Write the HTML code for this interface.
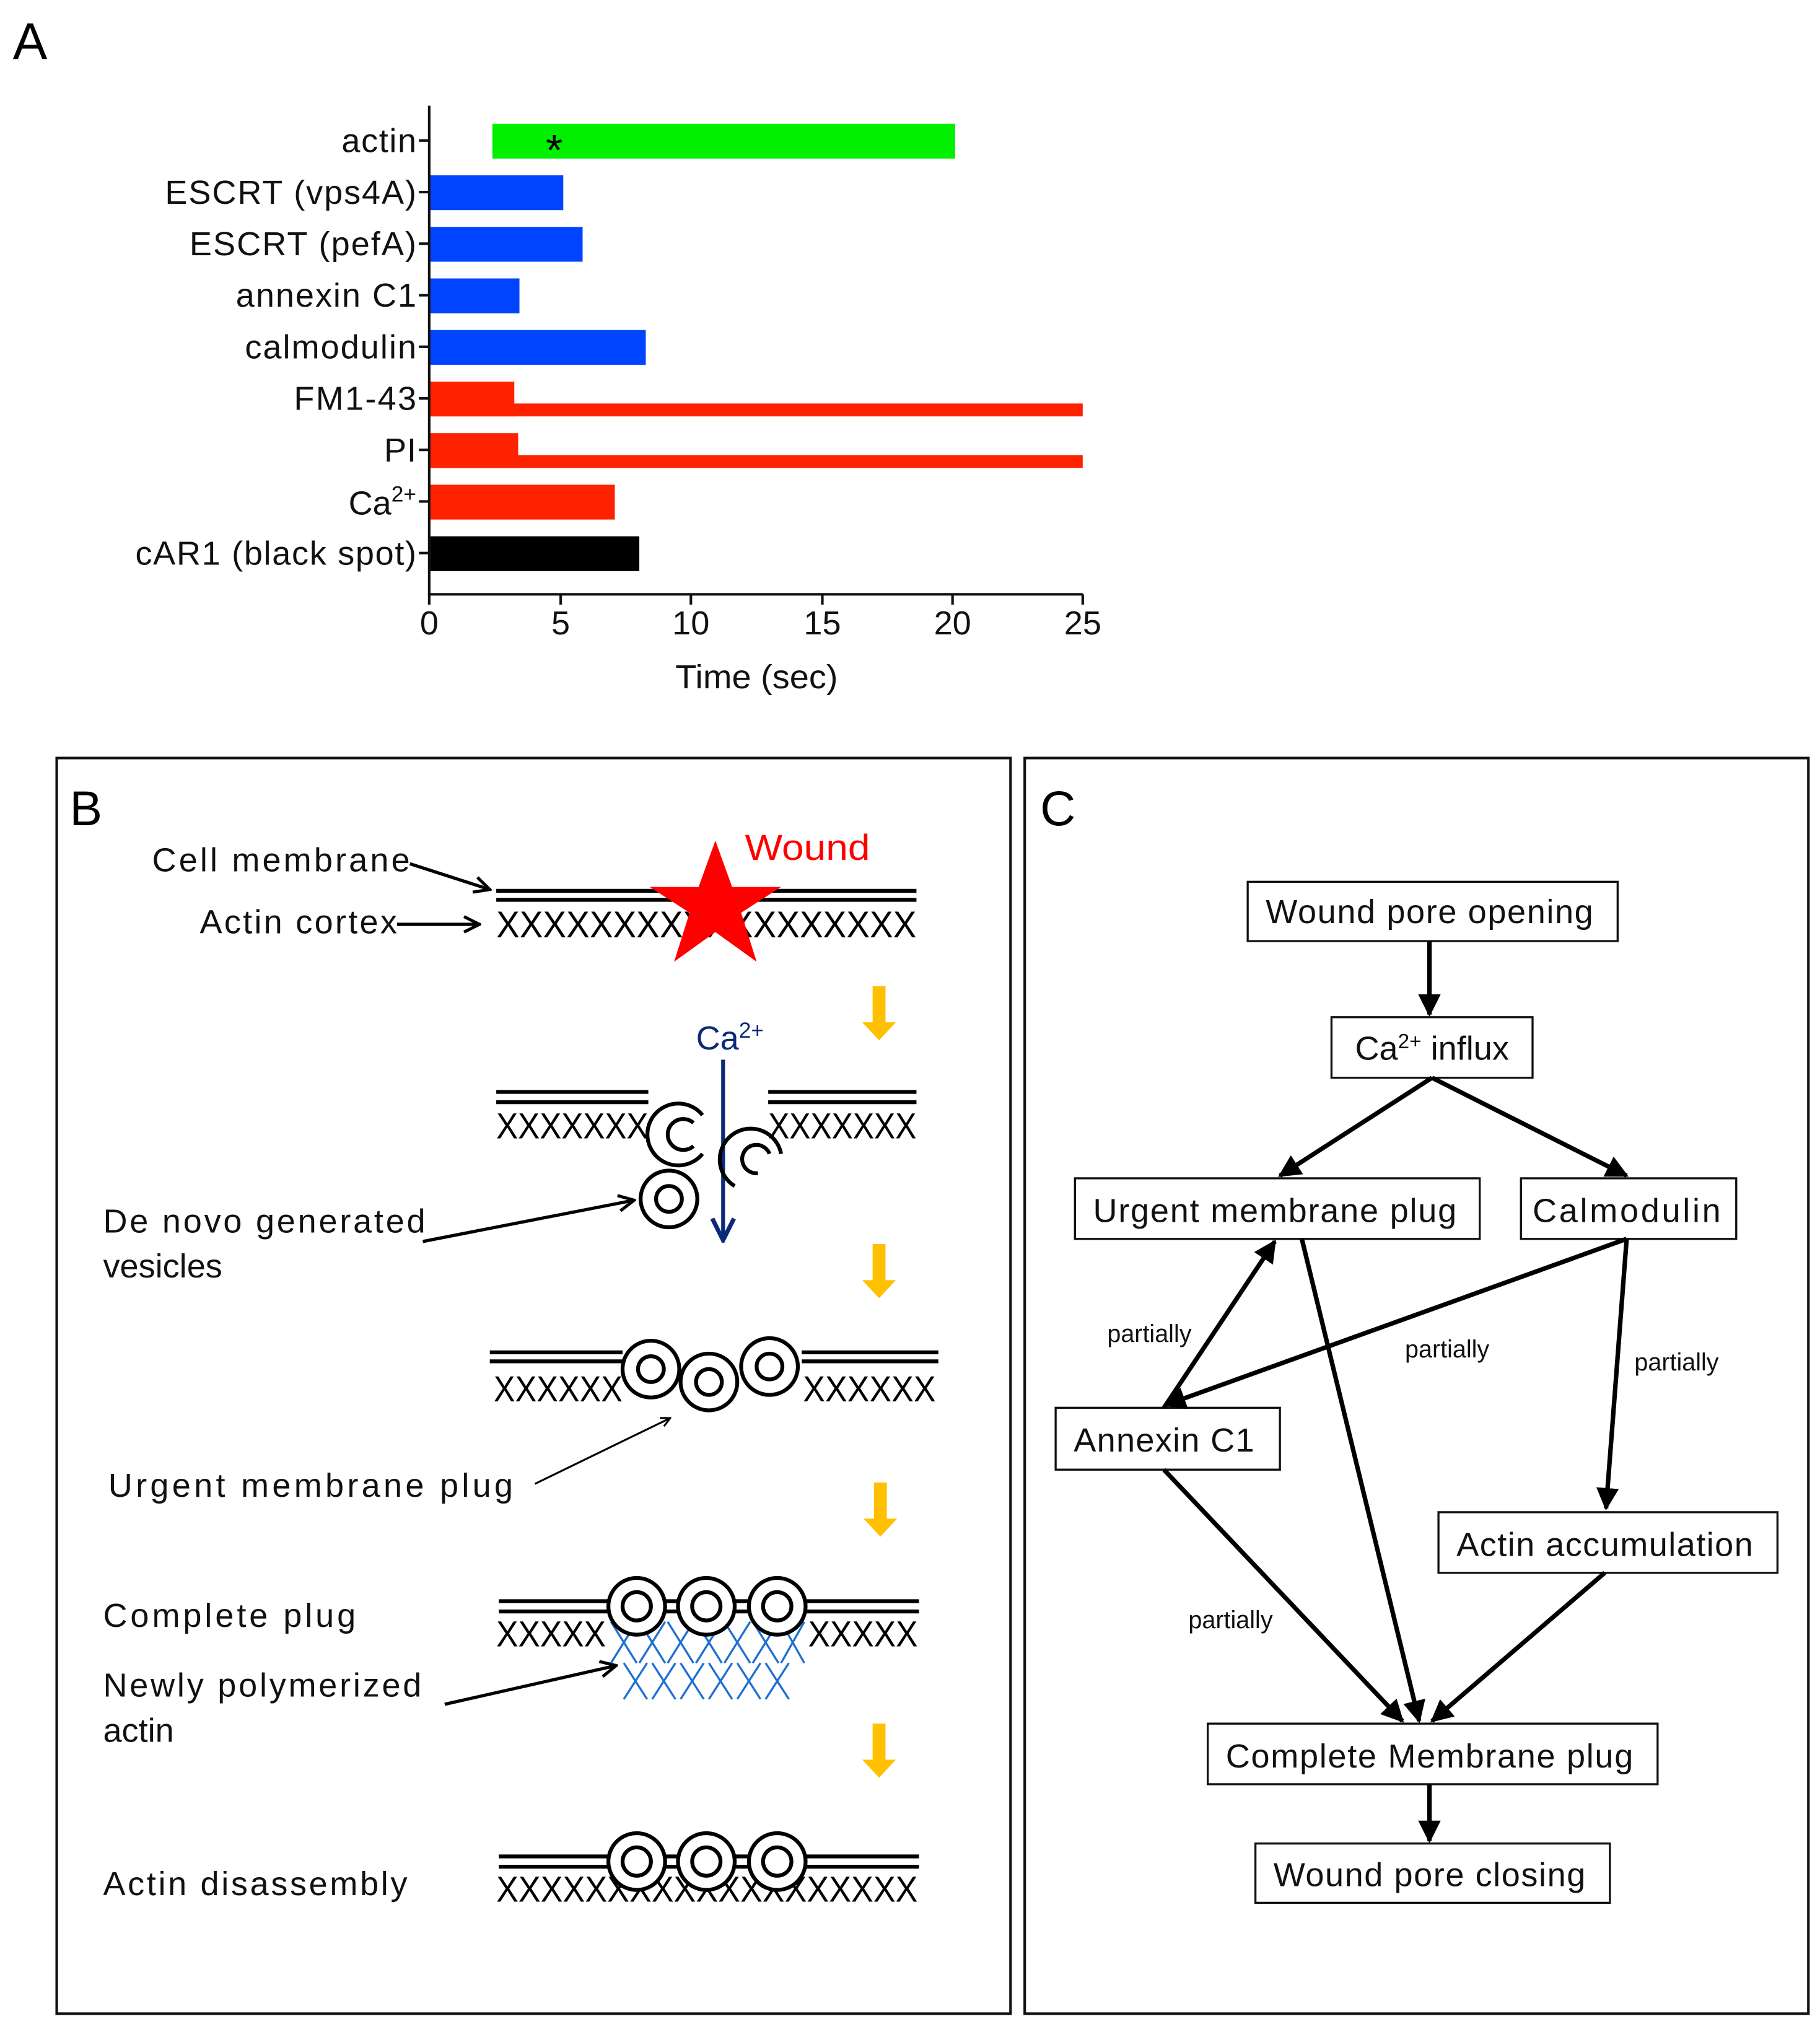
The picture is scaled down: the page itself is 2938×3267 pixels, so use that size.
<!DOCTYPE html>
<html><head><meta charset="utf-8"><style>
html,body{margin:0;padding:0;background:#fff}
svg{display:block}
text{font-family:"Liberation Sans",sans-serif}
</style></head><body>
<svg width="2938" height="3267" viewBox="0 0 1412 1570" preserveAspectRatio="none" xmlns="http://www.w3.org/2000/svg">
<defs>
<marker id="ah" viewBox="0 0 10 10" refX="9" refY="5" markerWidth="5" markerHeight="5" orient="auto"><path d="M0,0 L10,5 L0,10 z" fill="#000"/></marker>
<marker id="op" viewBox="0 0 10 10" refX="9" refY="5" markerWidth="6" markerHeight="6" orient="auto"><path d="M1,1 L9,5 L1,9" fill="none" stroke="#000" stroke-width="1.6"/></marker>
<marker id="nv" viewBox="0 0 10 10" refX="9" refY="5" markerWidth="7" markerHeight="7" orient="auto"><path d="M1,1 L9,5 L1,9" fill="none" stroke="#0b2a7a" stroke-width="1.6"/></marker>
</defs>
<text x="10" y="46" font-size="40">A</text>
<g font-size="26" text-anchor="end" fill="#111" lengthAdjust="spacingAndGlyphs">
<text x="323" y="118" textLength="58">actin</text>
<text x="323" y="158" textLength="195">ESCRT (vps4A)</text>
<text x="323" y="198" textLength="176">ESCRT (pefA)</text>
<text x="323" y="238" textLength="140">annexin C1</text>
<text x="323" y="278" textLength="133">calmodulin</text>
<text x="323" y="318" textLength="95">FM1-43</text>
<text x="323" y="358" textLength="25">PI</text>
<text x="323" y="399">Ca<tspan dy="-10" font-size="17">2+</tspan></text>
<text x="323" y="438" textLength="218">cAR1 (black spot)</text>
</g>
<g stroke="#111" stroke-width="2">
<line x1="333" y1="82" x2="333" y2="462"/>
<line x1="333" y1="461" x2="840" y2="461"/>
<line x1="325" y1="109" x2="333" y2="109"/><line x1="325" y1="149" x2="333" y2="149"/><line x1="325" y1="189" x2="333" y2="189"/><line x1="325" y1="229" x2="333" y2="229"/><line x1="325" y1="269" x2="333" y2="269"/><line x1="325" y1="309" x2="333" y2="309"/><line x1="325" y1="349" x2="333" y2="349"/><line x1="325" y1="389" x2="333" y2="389"/><line x1="325" y1="429" x2="333" y2="429"/>
<line x1="333" y1="461" x2="333" y2="469"/><line x1="435" y1="461" x2="435" y2="469"/><line x1="536" y1="461" x2="536" y2="469"/><line x1="638" y1="461" x2="638" y2="469"/><line x1="739" y1="461" x2="739" y2="469"/><line x1="840" y1="461" x2="840" y2="469"/>
</g>
<rect x="382" y="96" width="359" height="27" fill="#00f000"/>
<text x="430" y="128" font-size="34" text-anchor="middle">*</text>
<rect x="334" y="136" width="103" height="27" fill="#0044ff"/>
<rect x="334" y="176" width="118" height="27" fill="#0044ff"/>
<rect x="334" y="216" width="69" height="27" fill="#0044ff"/>
<rect x="334" y="256" width="167" height="27" fill="#0044ff"/>
<rect x="334" y="296" width="65" height="27" fill="#ff2200"/>
<rect x="334" y="313" width="506" height="10" fill="#ff2200"/>
<rect x="334" y="336" width="68" height="27" fill="#ff2200"/>
<rect x="334" y="353" width="506" height="10" fill="#ff2200"/>
<rect x="334" y="376" width="143" height="27" fill="#ff2200"/>
<rect x="334" y="416" width="162" height="27" fill="#000"/>
<g font-size="26" text-anchor="middle" fill="#111">
<text x="333" y="492">0</text><text x="435" y="492">5</text><text x="536" y="492">10</text><text x="638" y="492">15</text><text x="739" y="492">20</text><text x="840" y="492">25</text>
<text x="587" y="534" textLength="126" lengthAdjust="spacingAndGlyphs">Time (sec)</text>
</g>
<rect x="44" y="588" width="740" height="974" fill="none" stroke="#111" stroke-width="2"/>
<text x="54" y="640" font-size="38">B</text>
<g font-size="26" fill="#111" lengthAdjust="spacingAndGlyphs">
<text x="118" y="676" textLength="200">Cell membrane</text>
<text x="155" y="724" textLength="153">Actin cortex</text>
<text x="80" y="956" textLength="250">De novo generated</text>
<text x="80" y="991">vesicles</text>
<text x="84" y="1161" textLength="314">Urgent membrane plug</text>
<text x="80" y="1262" textLength="196">Complete plug</text>
<text x="80" y="1316" textLength="247">Newly polymerized</text>
<text x="80" y="1351">actin</text>
<text x="80" y="1470" textLength="236">Actin disassembly</text>
</g>
<g stroke="#000" stroke-width="2.5" fill="none">
<line x1="318" y1="670" x2="380" y2="690" marker-end="url(#op)"/>
<line x1="308" y1="717" x2="372" y2="717" marker-end="url(#op)"/>
<line x1="328" y1="963" x2="492" y2="931" marker-end="url(#op)"/>
<line x1="345" y1="1322" x2="478" y2="1292" marker-end="url(#op)"/>
</g>
<line x1="415" y1="1151" x2="520" y2="1100" stroke="#000" stroke-width="1.5" marker-end="url(#op)"/>
<g stroke="#000" stroke-width="3"><line x1="385" y1="691" x2="711" y2="691"/><line x1="385" y1="698" x2="711" y2="698"/></g>
<text x="385" y="727" font-size="29" textLength="326" lengthAdjust="spacingAndGlyphs">XXXXXXXXXXXXXXXXXX</text>
<polygon points="555,652 568,688 606,688 575,708 587,746 555,723 523,746 535,708 504,688 542,688" fill="#ff0000"/>
<text x="578" y="667" font-size="28" fill="#ff0000" textLength="97" lengthAdjust="spacingAndGlyphs">Wound</text>
<g fill="#ffc000">
<path d="M677,765h10v28h8l-13,14l-13,-14h8z"/>
<path d="M677,965h10v28h8l-13,14l-13,-14h8z"/>
<path d="M678,1150h10v28h8l-13,14l-13,-14h8z"/>
<path d="M677,1337h10v28h8l-13,14l-13,-14h8z"/>
</g>
<g stroke="#000" stroke-width="3"><line x1="385" y1="847" x2="503" y2="847"/><line x1="385" y1="855" x2="503" y2="855"/><line x1="596" y1="847" x2="711" y2="847"/><line x1="596" y1="855" x2="711" y2="855"/></g>
<text x="385" y="883" font-size="28" textLength="118" lengthAdjust="spacingAndGlyphs">XXXXXXX</text>
<text x="596" y="883" font-size="28" textLength="115" lengthAdjust="spacingAndGlyphs">XXXXXXX</text>
<text x="540" y="814" font-size="26" fill="#0b2a7a">Ca<tspan dy="-9" font-size="17">2+</tspan></text>
<line x1="561" y1="822" x2="561" y2="962" stroke="#0b2a7a" stroke-width="3" marker-end="url(#nv)"/>
<g stroke="#000" stroke-width="3" fill="none">
<circle cx="519" cy="930" r="22"/><circle cx="519" cy="930" r="10"/>
<path d="M545,865 A24,24 0 1 0 545,895"/><path d="M538,871 A12,12 0 1 0 538,889"/>
<path d="M570,920 A24,24 0 1 1 606,895"/><path d="M588,910 A11,11 0 1 1 597,895"/>
</g>
<g stroke="#000" stroke-width="3"><line x1="380" y1="1049" x2="483" y2="1049"/><line x1="380" y1="1056" x2="483" y2="1056"/><line x1="622" y1="1049" x2="728" y2="1049"/><line x1="622" y1="1056" x2="728" y2="1056"/></g>
<text x="383" y="1087" font-size="28" textLength="100" lengthAdjust="spacingAndGlyphs">XXXXXX</text>
<text x="623" y="1087" font-size="28" textLength="103" lengthAdjust="spacingAndGlyphs">XXXXXX</text>
<g stroke="#000" stroke-width="3" fill="#fff">
<circle cx="505" cy="1062" r="22"/><circle cx="505" cy="1062" r="10"/>
<circle cx="550" cy="1072" r="22"/><circle cx="550" cy="1072" r="10"/>
<circle cx="597" cy="1060" r="22"/><circle cx="597" cy="1060" r="10"/>
</g>
<g stroke="#1f6fd0" stroke-width="1.6" fill="none">
<path d="M474,1258 L494,1290 M494,1258 L474,1290 M496,1258 L516,1290 M516,1258 L496,1290 M518,1258 L538,1290 M538,1258 L518,1290 M540,1258 L560,1290 M560,1258 L540,1290 M562,1258 L582,1290 M582,1258 L562,1290 M584,1258 L604,1290 M604,1258 L584,1290 M606,1258 L624,1290 M624,1258 L606,1290"/>
<path d="M484,1290 L502,1318 M502,1290 L484,1318 M506,1290 L524,1318 M524,1290 L506,1318 M528,1290 L546,1318 M546,1290 L528,1318 M550,1290 L568,1318 M568,1290 L550,1318 M572,1290 L590,1318 M590,1290 L572,1318 M594,1290 L612,1318 M612,1290 L594,1318"/>
</g>
<g stroke="#000" stroke-width="3"><line x1="387" y1="1242" x2="713" y2="1242"/><line x1="387" y1="1250" x2="713" y2="1250"/></g>
<text x="385" y="1277" font-size="28" textLength="85" lengthAdjust="spacingAndGlyphs">XXXXX</text>
<text x="627" y="1277" font-size="28" textLength="85" lengthAdjust="spacingAndGlyphs">XXXXX</text>
<g stroke="#000" stroke-width="3" fill="#fff">
<circle cx="494" cy="1246" r="22"/><circle cx="494" cy="1246" r="11"/>
<circle cx="548" cy="1246" r="22"/><circle cx="548" cy="1246" r="11"/>
<circle cx="603" cy="1246" r="22"/><circle cx="603" cy="1246" r="11"/>
</g>
<g stroke="#000" stroke-width="3"><line x1="387" y1="1440" x2="713" y2="1440"/><line x1="387" y1="1448" x2="713" y2="1448"/></g>
<text x="385" y="1475" font-size="28" textLength="327" lengthAdjust="spacingAndGlyphs">XXXXXXXXXXXXXXXXXXX</text>
<g stroke="#000" stroke-width="3" fill="#fff">
<circle cx="494" cy="1444" r="22"/><circle cx="494" cy="1444" r="11"/>
<circle cx="548" cy="1444" r="22"/><circle cx="548" cy="1444" r="11"/>
<circle cx="603" cy="1444" r="22"/><circle cx="603" cy="1444" r="11"/>
</g>
<rect x="795" y="588" width="608" height="974" fill="none" stroke="#111" stroke-width="2"/>
<text x="807" y="640" font-size="38">C</text>
<g stroke="#111" stroke-width="1.6" fill="#fff">
<rect x="968" y="684" width="287" height="46"/>
<rect x="1033" y="789" width="156" height="47"/>
<rect x="834" y="914" width="314" height="47"/>
<rect x="1180" y="914" width="167" height="47"/>
<rect x="819" y="1092" width="174" height="48"/>
<rect x="1116" y="1173" width="263" height="47"/>
<rect x="937" y="1337" width="349" height="47"/>
<rect x="974" y="1430" width="275" height="46"/>
</g>
<g font-size="26" text-anchor="middle" fill="#111" lengthAdjust="spacingAndGlyphs">
<text x="1109" y="716" textLength="254">Wound pore opening</text>
<text x="1111" y="822">Ca<tspan dy="-9" font-size="16">2+</tspan><tspan dy="9"> influx</tspan></text>
<text x="989" y="948" textLength="282">Urgent membrane plug</text>
<text x="1262" y="948" textLength="146">Calmodulin</text>
<text x="903" y="1126" textLength="140">Annexin C1</text>
<text x="1245" y="1207" textLength="230">Actin accumulation</text>
<text x="1109" y="1371" textLength="316">Complete Membrane plug</text>
<text x="1109" y="1463" textLength="242">Wound pore closing</text>
</g>
<g stroke="#000" stroke-width="3.5" fill="none">
<line x1="1109" y1="730" x2="1109" y2="787" marker-end="url(#ah)"/>
<line x1="1111" y1="836" x2="993" y2="912" marker-end="url(#ah)"/>
<line x1="1111" y1="836" x2="1262" y2="912" marker-end="url(#ah)"/>
<line x1="903" y1="1092" x2="989" y2="963" marker-end="url(#ah)"/>
<line x1="1262" y1="961" x2="904" y2="1090" marker-end="url(#ah)"/>
<line x1="1262" y1="961" x2="1246" y2="1170" marker-end="url(#ah)"/>
<line x1="1010" y1="961" x2="1101" y2="1335" marker-end="url(#ah)"/>
<line x1="903" y1="1140" x2="1088" y2="1335" marker-end="url(#ah)"/>
<line x1="1245" y1="1220" x2="1111" y2="1335" marker-end="url(#ah)"/>
<line x1="1109" y1="1384" x2="1109" y2="1428" marker-end="url(#ah)"/>
</g>
<g font-size="19" fill="#111">
<text x="859" y="1041">partially</text>
<text x="1090" y="1053">partially</text>
<text x="1268" y="1063">partially</text>
<text x="922" y="1263">partially</text>
</g>
</svg>
</body></html>
